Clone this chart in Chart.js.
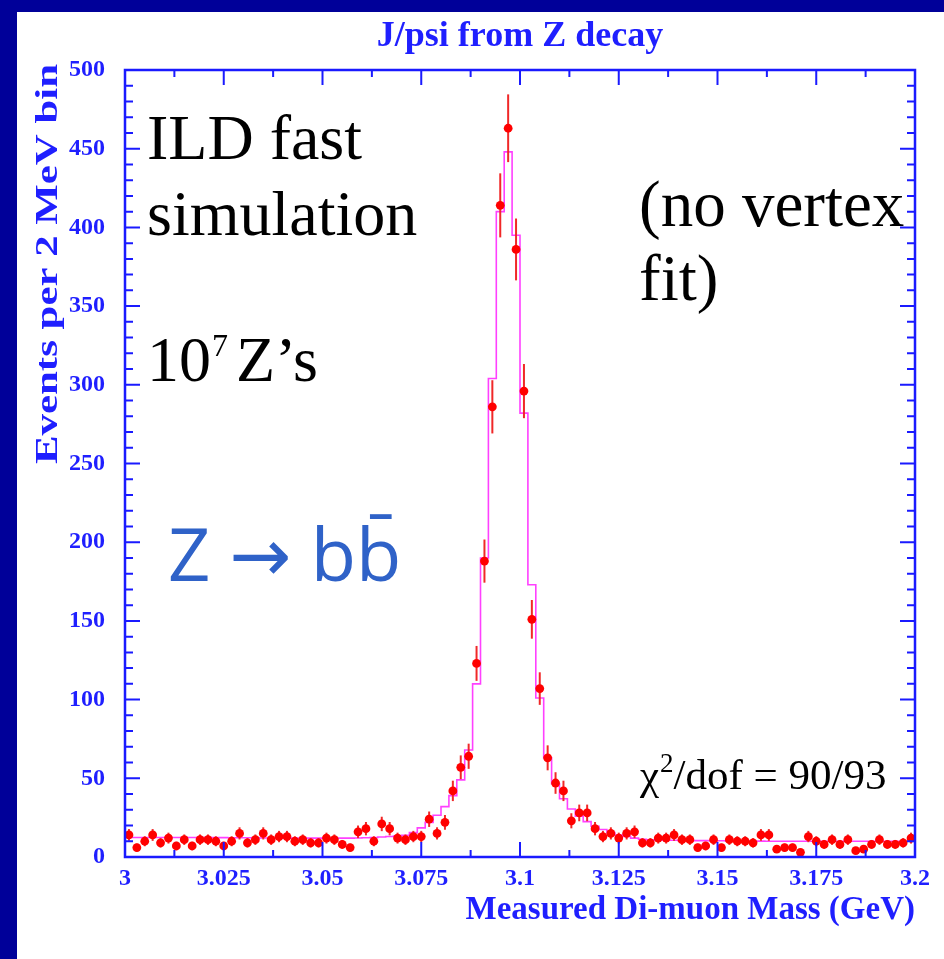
<!DOCTYPE html>
<html><head><meta charset="utf-8">
<script src="https://cdn.jsdelivr.net/npm/chart.js@4.4.1/dist/chart.umd.min.js"></script>
<style>html,body{margin:0;padding:0;background:#fff;overflow:hidden}canvas{display:block}</style>
</head><body>
<canvas id="c" width="944" height="959"></canvas>
<script>
// ---------------- data ----------------
const massMin = 3.0, massMax = 3.2, binWidth = 0.002;
const counts = [
 14, 6, 10, 14, 9, 12, 7, 11, 7, 11,
 11, 10, 7, 10, 15, 9, 11, 15, 11, 13,
 13, 10, 11, 9, 9, 12, 11, 8, 6, 16,
 18, 10, 21, 18, 12, 11, 13, 13, 24, 15,
 22, 42, 57, 64, 123, 188, 286, 414, 463, 386,
 296, 151, 107, 63, 47, 42, 23, 28, 28, 18,
 13, 15, 12, 15, 16, 9, 9, 12, 12, 14,
 11, 11, 6, 7, 11, 6, 11, 10, 10, 9,
 14, 14, 5, 6, 6, 3, 13, 10, 8, 11,
 8, 11, 4, 5, 8, 11, 8, 8, 9, 12
];
const fitValues = [
 12.4, 12.4, 12.4, 12.4, 12.4, 12.4, 12.4, 12.4, 12.4, 12.3,
 12.3, 12.3, 12.3, 12.2, 12.2, 12.2, 12.2, 12.1, 12.1, 12.1,
 12.0, 12.0, 12.0, 12.0, 12.0, 12.0, 12.0, 12.0, 12.0, 12.1,
 12.2, 12.4, 12.7, 13.0, 13.3, 13.8, 15.5, 18.5, 22, 26.5,
 32, 39, 49, 68, 110, 190, 304, 410, 448, 395,
 282, 173, 101, 63, 46.5, 37, 30.5, 26, 22.5, 19.5,
 17.5, 15.5, 14, 13, 12, 11.3, 10.9, 10.7, 10.6, 10.6,
 10.5, 10.5, 10.4, 10.4, 10.3, 10.3, 10.2, 10.2, 10.1, 10.1,
 10.1, 10.0, 10.0, 10.0, 10.0, 10.0, 10.0, 10.0, 10.0, 10.0,
 10.0, 10.0, 10.0, 10.0, 10.0, 10.0, 10.0, 10.0, 10.0, 10.0
];
const xTickValues = [3, 3.025, 3.05, 3.075, 3.1, 3.125, 3.15, 3.175, 3.2];
const xTickLabels = ['3', '3.025', '3.05', '3.075', '3.1', '3.125', '3.15', '3.175', '3.2'];
const xMinorTicks = [3.0125, 3.0375, 3.0625, 3.0875, 3.1125, 3.1375, 3.1625, 3.1875];
const yTickValues = [0, 50, 100, 150, 200, 250, 300, 350, 400, 450, 500];
const yMinorTicks = [10,20,30,40,60,70,80,90,110,120,130,140,160,170,180,190,210,220,230,240,
                     260,270,280,290,310,320,330,340,360,370,380,390,410,420,430,440,460,470,480,490];
const titleText = 'J/psi from Z decay';
const xTitle = 'Measured Di-muon Mass (GeV)';
const yTitle = 'Events per 2 MeV bin';
const chiText = ['\u03C7', '2', '/dof = 90/93'];

// ---------------- styles ----------------
const AX = '#1a1aff';
const TXT = '#1f1fff';
const NAVY = '#000099';
const SERIF = '"Liberation Serif", "Times New Roman", serif';

const pointData = counts.map((c, i) => ({x: massMin + binWidth * (i + 0.5), y: c}));
const fitData = [{x: massMin, y: 0}]
  .concat(fitValues.map((f, i) => ({x: massMin + binWidth * i, y: f})))
  .concat([{x: massMax, y: fitValues[fitValues.length - 1]}, {x: massMax, y: 0}]);

const backgroundPlugin = {
  id: 'bgframe',
  beforeDraw(chart) {
    const ctx = chart.ctx;
    ctx.save();
    ctx.fillStyle = NAVY;
    ctx.fillRect(0, 0, chart.width, chart.height);
    ctx.fillStyle = '#ffffff';
    ctx.fillRect(17, 12, chart.width - 17, chart.height - 12);
    ctx.restore();
  }
};

const errorBarPlugin = {
  id: 'errbars',
  beforeDatasetDraw(chart, args) {
    if (args.index !== 1) return;
    const ctx = chart.ctx, xs = chart.scales.x, ys = chart.scales.y;
    ctx.save();
    ctx.strokeStyle = '#f02828';
    ctx.lineWidth = 2;
    counts.forEach((c, i) => {
      const e = Math.sqrt(c);
      const px = xs.getPixelForValue(massMin + binWidth * (i + 0.5));
      ctx.beginPath();
      ctx.moveTo(px, ys.getPixelForValue(Math.max(0, c - e)));
      ctx.lineTo(px, ys.getPixelForValue(c + e));
      ctx.stroke();
    });
    ctx.restore();
  }
};

const framePlugin = {
  id: 'frame',
  afterDraw(chart) {
    const ctx = chart.ctx, xs = chart.scales.x, ys = chart.scales.y;
    const a = chart.chartArea;
    ctx.save();
    ctx.strokeStyle = AX;
    ctx.lineWidth = 2;
    const tick = (px, len, vertical) => {
      ctx.beginPath();
      if (vertical) {
        ctx.moveTo(px, a.bottom); ctx.lineTo(px, a.bottom - len);
        ctx.moveTo(px, a.top); ctx.lineTo(px, a.top + len);
      } else {
        ctx.moveTo(a.left, px); ctx.lineTo(a.left + len, px);
        ctx.moveTo(a.right, px); ctx.lineTo(a.right - len, px);
      }
      ctx.stroke();
    };
    xTickValues.forEach(v => tick(xs.getPixelForValue(v), 15, true));
    xMinorTicks.forEach(v => tick(xs.getPixelForValue(v), 7, true));
    yTickValues.forEach(v => tick(ys.getPixelForValue(v), 15, false));
    yMinorTicks.forEach(v => tick(ys.getPixelForValue(v), 8, false));
    ctx.lineWidth = 2.5;
    ctx.strokeRect(a.left, a.top, a.right - a.left, a.bottom - a.top);

    // title
    ctx.fillStyle = TXT;
    ctx.font = 'bold 36px ' + SERIF;
    ctx.textAlign = 'center';
    ctx.textBaseline = 'alphabetic';
    ctx.fillText(titleText, (a.left + a.right) / 2, 46);

    // y axis title (elongated like the reference)
    ctx.save();
    ctx.font = 'bold 31px ' + SERIF;
    const w = ctx.measureText(yTitle).width;
    const stretch = 400 / w;
    ctx.translate(57, 64);
    ctx.rotate(-Math.PI / 2);
    ctx.scale(stretch, 1);
    ctx.textAlign = 'right';
    ctx.textBaseline = 'alphabetic';
    ctx.fillText(yTitle, 0, 0);
    ctx.restore();

    // annotations
    ctx.fillStyle = '#000';
    ctx.textAlign = 'left';
    ctx.font = '64px ' + SERIF;
    ctx.fillText('ILD fast', 147, 159);
    ctx.fillText('simulation', 147, 235);
    ctx.fillText('10', 147, 381);
    ctx.fillText('Z\u2019s', 236, 381);
    ctx.font = '32px ' + SERIF;
    ctx.fillText('7', 212, 356);
    ctx.font = '65px ' + SERIF;
    ctx.fillText('(no vertex', 639, 226);
    ctx.fillText('fit)', 639, 300);

    ctx.font = '43px ' + SERIF;
    let cx = 640;
    ctx.fillText(chiText[0], cx, 789);
    cx += ctx.measureText(chiText[0]).width + 1;
    ctx.font = '27px ' + SERIF;
    ctx.fillText(chiText[1], cx, 772);
    cx += ctx.measureText(chiText[1]).width;
    ctx.font = '43px ' + SERIF;
    ctx.fillText(chiText[2], cx, 789);

    // handwritten note
    ctx.fillStyle = '#2f62c8';
    ctx.font = '400 74px "Open Sans", "DejaVu Sans", sans-serif';
    ctx.fillText('Z \u2192 bb\u0304', 168, 581);
    ctx.restore();
  }
};

const tickFont = {family: SERIF, weight: 'bold', size: 24};

new Chart(document.getElementById('c'), {
  type: 'line',
  data: {
    datasets: [
      {
        label: 'fit',
        data: fitData,
        stepped: 'before',
        borderColor: '#ff40ff',
        borderWidth: 1.6,
        pointRadius: 0,
        fill: false,
        order: 2
      },
      {
        type: 'scatter',
        label: 'data',
        data: pointData,
        backgroundColor: '#ff0000',
        borderWidth: 0,
        pointRadius: 4.4,
        showLine: false,
        order: 1
      }
    ]
  },
  options: {
    responsive: false,
    animation: false,
    devicePixelRatio: 1,
    layout: {padding: {top: 70, right: 29, bottom: 29, left: 0}},
    plugins: {legend: {display: false}, title: {display: false}, tooltip: {enabled: false}},
    scales: {
      x: {
        type: 'linear', min: massMin, max: massMax,
        afterBuildTicks: s => { s.ticks = xTickValues.map(v => ({value: v})); },
        afterFit: s => { s.height = 73; },
        ticks: {
          callback: (v, i) => xTickLabels[i],
          font: tickFont, color: TXT, padding: -1, maxRotation: 0, autoSkip: false
        },
        grid: {display: false},
        border: {display: false},
        title: {display: true, text: xTitle, align: 'end', color: TXT,
                font: {family: SERIF, weight: 'bold', size: 33}, padding: {top: 0, bottom: 0}}
      },
      y: {
        type: 'linear', min: 0, max: 500,
        afterBuildTicks: s => { s.ticks = yTickValues.map(v => ({value: v})); },
        afterFit: s => { s.width = 125; },
        ticks: {font: tickFont, color: TXT, padding: 12},
        grid: {display: false},
        border: {display: false},
        title: {display: false}
      }
    }
  },
  plugins: [backgroundPlugin, errorBarPlugin, framePlugin]
});
</script>
</body></html>
